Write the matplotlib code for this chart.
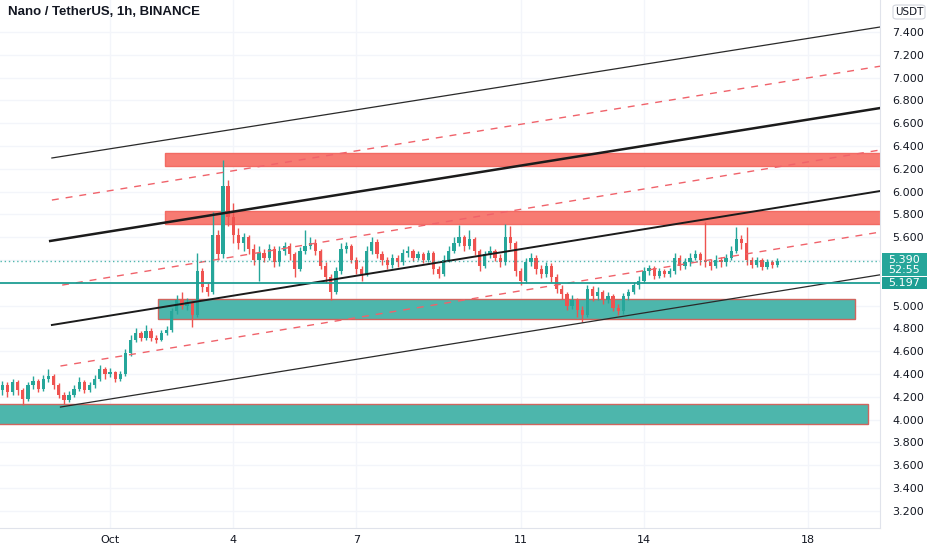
import numpy as np
import pandas as pd
import matplotlib
matplotlib.use("Agg")
import matplotlib.pyplot as plt
import matplotlib.dates as mdates
from matplotlib.patches import Rectangle, FancyBboxPatch

title = "Nano / TetherUS, 1h, BINANCE"

# candles, aggregated to 3h
first_open = 4.26
closes = [4.30, 4.24, 4.33, 4.26, 4.18, 4.30, 4.34, 4.27, 4.36, 4.38,
          4.30, 4.22, 4.17, 4.22, 4.27, 4.33, 4.26, 4.30, 4.36, 4.44,
          4.40, 4.42, 4.36, 4.40, 4.58, 4.70, 4.76, 4.72, 4.78, 4.72,
          4.70, 4.76, 4.79, 4.95, 5.05, 5.00, 5.03, 4.92, 5.30, 5.16,
          5.12, 5.62, 5.45, 6.05, 5.78, 5.62, 5.55, 5.60, 5.50, 5.40,
          5.46, 5.42, 5.50, 5.38, 5.48, 5.52, 5.45, 5.32, 5.48, 5.52,
          5.55, 5.48, 5.35, 5.25, 5.12, 5.30, 5.50, 5.52, 5.40, 5.32,
          5.28, 5.48, 5.56, 5.45, 5.40, 5.36, 5.42, 5.38, 5.46, 5.48,
          5.42, 5.45, 5.40, 5.46, 5.32, 5.28, 5.40, 5.48, 5.55, 5.60,
          5.52, 5.58, 5.48, 5.35, 5.45, 5.48, 5.42, 5.38, 5.60, 5.55,
          5.30, 5.22, 5.38, 5.42, 5.32, 5.28, 5.35, 5.25, 5.15, 5.10,
          5.00, 5.05, 4.96, 4.92, 5.15, 5.08, 5.12, 5.05, 5.08, 4.98,
          4.95, 5.08, 5.12, 5.18, 5.22, 5.30, 5.33, 5.26, 5.30, 5.28,
          5.30, 5.42, 5.35, 5.38, 5.42, 5.45, 5.40, 5.38, 5.35, 5.40,
          5.38, 5.42, 5.48, 5.58, 5.55, 5.40, 5.36, 5.40, 5.34, 5.38,
          5.36, 5.39]
highs = [4.34, 4.33, 4.36, 4.35, 4.28, 4.33, 4.38, 4.36, 4.39, 4.44,
         4.40, 4.32, 4.24, 4.25, 4.30, 4.37, 4.35, 4.33, 4.39, 4.48,
         4.46, 4.45, 4.43, 4.43, 4.62, 4.74, 4.80, 4.78, 4.83, 4.80,
         4.74, 4.79, 4.82, 4.98, 5.09, 5.12, 5.07, 5.05, 5.46, 5.33,
         5.20, 5.82, 5.66, 6.28, 6.10, 5.90, 5.68, 5.64, 5.62, 5.54,
         5.52, 5.50, 5.54, 5.52, 5.52, 5.56, 5.55, 5.47, 5.51, 5.66,
         5.60, 5.58, 5.50, 5.38, 5.28, 5.34, 5.55, 5.56, 5.54, 5.43,
         5.35, 5.52, 5.60, 5.58, 5.48, 5.43, 5.45, 5.44, 5.50, 5.52,
         5.50, 5.48, 5.47, 5.49, 5.48, 5.35, 5.44, 5.52, 5.60, 5.71,
         5.62, 5.66, 5.60, 5.50, 5.48, 5.52, 5.50, 5.45, 5.72, 5.70,
         5.57, 5.33, 5.42, 5.46, 5.44, 5.36, 5.38, 5.37, 5.28, 5.18,
         5.12, 5.09, 5.07, 5.00, 5.18, 5.17, 5.16, 5.14, 5.12, 5.10,
         5.01, 5.11, 5.15, 5.21, 5.26, 5.34, 5.36, 5.35, 5.33, 5.32,
         5.33, 5.46, 5.44, 5.42, 5.46, 5.49, 5.47, 5.73, 5.41, 5.44,
         5.43, 5.45, 5.52, 5.69, 5.62, 5.69, 5.43, 5.43, 5.42, 5.41,
         5.40, 5.42]
lows = [4.22, 4.20, 4.22, 4.22, 4.13, 4.16, 4.27, 4.24, 4.25, 4.33,
        4.27, 4.19, 4.14, 4.15, 4.20, 4.25, 4.23, 4.24, 4.28, 4.34,
        4.36, 4.37, 4.33, 4.34, 4.38, 4.56, 4.68, 4.69, 4.70, 4.69,
        4.67, 4.69, 4.74, 4.77, 4.93, 4.97, 4.96, 4.81, 4.90, 5.12,
        5.08, 5.10, 5.40, 5.42, 5.70, 5.55, 5.50, 5.48, 5.45, 5.36,
        5.22, 5.38, 5.40, 5.34, 5.35, 5.44, 5.40, 5.25, 5.30, 5.45,
        5.50, 5.44, 5.32, 5.20, 5.05, 5.10, 5.28, 5.46, 5.37, 5.28,
        5.22, 5.26, 5.45, 5.42, 5.36, 5.32, 5.33, 5.34, 5.36, 5.43,
        5.39, 5.40, 5.37, 5.38, 5.28, 5.24, 5.26, 5.38, 5.46, 5.52,
        5.48, 5.50, 5.44, 5.30, 5.33, 5.42, 5.39, 5.34, 5.36, 5.50,
        5.26, 5.18, 5.20, 5.35, 5.28, 5.24, 5.25, 5.21, 5.11, 5.06,
        4.96, 4.97, 4.90, 4.86, 4.90, 5.04, 5.05, 5.01, 5.02, 4.95,
        4.92, 4.93, 5.05, 5.10, 5.15, 5.20, 5.27, 5.23, 5.24, 5.25,
        5.25, 5.28, 5.31, 5.32, 5.35, 5.40, 5.36, 5.34, 5.31, 5.33,
        5.34, 5.35, 5.40, 5.46, 5.50, 5.36, 5.33, 5.34, 5.31, 5.32,
        5.33, 5.34]

# drawn zones (supply red, demand teal)
zone_start = ["2021-10-02 08:00", "2021-10-02 08:00", "2021-10-02 04:00", "2021-09-28 00:00"]
zone_end = ["2021-10-20 00:00", "2021-10-20 00:00", "2021-10-19 03:30", "2021-10-19 11:00"]
zone_lo = [6.225, 5.715, 4.88, 3.96]
zone_hi = [6.34, 5.83, 5.058, 4.137]
zone_kind = ["supply", "supply", "demand", "demand"]

# channel lines
line_start = ["2021-09-29 14:00", "2021-09-29 14:00", "2021-09-29 13:00", "2021-09-29 20:00",
              "2021-09-29 14:00", "2021-09-29 19:00", "2021-09-29 19:00"]
line_end = ["2021-10-19 18:00"] * 7
line_p0 = [6.295, 5.926, 5.567, 5.18, 4.83, 4.47, 4.11]
line_p1 = [7.444, 7.10, 6.733, 6.365, 6.005, 5.645, 5.27]
line_kind = ["thin", "dash", "thick", "dash", "mid", "dash", "thin"]

hline_price = 5.197
last_price = 5.390
countdown = "52:55"

price_levels = [3.2, 3.4, 3.6, 3.8, 4.0, 4.2, 4.4, 4.6, 4.8, 5.0, 5.2, 5.4,
                5.6, 5.8, 6.0, 6.2, 6.4, 6.6, 6.8, 7.0, 7.2, 7.4]
day_ticks = ["2021-10-01", "2021-10-04", "2021-10-07", "2021-10-11", "2021-10-14", "2021-10-18"]
day_labels = ["Oct", "4", "7", "11", "14", "18"]

UP = "#26a69a"
DOWN = "#ef5350"
GRID = "#f3f5fa"
TXT = "#131722"

plt.rcParams['font.family'] = ['DejaVu Sans']

fig = plt.figure(figsize=(9.32, 5.5), dpi=100)
ax = fig.add_axes([0, 22 / 550, 880 / 932, 528 / 550])

t = mdates.date2num(pd.date_range("2021-09-28 09:00", periods=len(closes), freq="3h").to_pydatetime())
c = np.array(closes)
o = np.concatenate([[first_open], c[:-1]])
h = np.maximum(np.array(highs), np.maximum(o, c))
l = np.minimum(np.array(lows), np.minimum(o, c))
col = np.where(c >= o, UP, DOWN)

# grid
for p in price_levels:
    ax.axhline(p, color=GRID, lw=1, zorder=0)
for d in day_ticks:
    ax.axvline(mdates.datestr2num(d), color=GRID, lw=1, zorder=0)

# zones
for s, e, lo, hi, k in zip(zone_start, zone_end, zone_lo, zone_hi, zone_kind):
    x0 = mdates.datestr2num(s)
    x1 = mdates.datestr2num(e)
    if k == "supply":
        fc, ec = "#f77b72", "#f26b63"
    else:
        fc, ec = "#4db6ac", "#d0655e"
    ax.add_patch(Rectangle((x0, lo), x1 - x0, hi - lo, facecolor=fc, edgecolor=ec,
                           lw=1, zorder=1))

ax.vlines(t, l, h, colors=col, lw=1.0, zorder=2)
ax.bar(t, np.maximum(np.abs(c - o), 0.008), bottom=np.minimum(o, c), width=0.08,
       color=col, zorder=2, linewidth=0)

# channel lines
for s, e, p0, p1, k in zip(line_start, line_end, line_p0, line_p1, line_kind):
    xs = [mdates.datestr2num(s), mdates.datestr2num(e)]
    if k == "dash":
        ax.plot(xs, [p0, p1], color="#f0626a", lw=1, ls=(0, (5, 5)), zorder=4)
    elif k == "thick":
        ax.plot(xs, [p0, p1], color="#1b1b1b", lw=1.8, zorder=4)
    elif k == "mid":
        ax.plot(xs, [p0, p1], color="#1b1b1b", lw=1.4, zorder=4)
    else:
        ax.plot(xs, [p0, p1], color="#2a2a2a", lw=0.9, zorder=4)

ax.axhline(hline_price, color="#1e9e93", lw=1.3, zorder=4)
ax.axhline(last_price, color=UP, lw=1, ls=(0, (1, 2)), alpha=0.8, zorder=4)

ax.set_xlim(mdates.datestr2num("2021-09-28 07:40"), mdates.datestr2num("2021-10-19 18:00"))
ax.set_ylim(3.049, 7.681)

ax.yaxis.tick_right()
ax.set_yticks(price_levels)
ax.set_yticklabels(["" if abs(p - 5.2) < 1e-6 or abs(p - 5.4) < 1e-6 else f"{p:.3f}"
                    for p in price_levels])
ax.set_xticks([mdates.datestr2num(d) for d in day_ticks])
ax.set_xticklabels(day_labels)
ax.tick_params(axis="y", length=0, pad=9, labelsize=8, labelcolor=TXT)
ax.tick_params(axis="x", length=0, pad=5, labelsize=8, labelcolor=TXT)
for sp in ["top", "left"]:
    ax.spines[sp].set_visible(False)
ax.spines["right"].set_color("#e0e3eb")
ax.spines["bottom"].set_color("#e0e3eb")

fig.text(8 / 932, 1 - 12 / 550, title, fontsize=9.5, fontweight="bold", color=TXT,
         family="Liberation Sans", va="center", ha="left")

# price scale badges
fig.patches.append(FancyBboxPatch((893 / 932, 1 - 19 / 550), 32 / 932, 14 / 550,
                                  boxstyle="round,pad=0,rounding_size=0.004",
                                  transform=fig.transFigure, facecolor="white",
                                  edgecolor="#d1d4dc", lw=0.8))
fig.text(909 / 932, 1 - 12 / 550, "USDT", fontsize=7.5, color=TXT, ha="center", va="center")

y_last = ax.transData.transform((0, last_price))[1]
y_h = ax.transData.transform((0, hline_price))[1]
fig.patches.append(Rectangle((882 / 932, (y_last - 15) / 550), 45 / 932, 23 / 550,
                             transform=fig.transFigure, facecolor=UP, edgecolor="none"))
fig.text(904 / 932, (y_last + 1) / 550, f"{last_price:.3f}", fontsize=8, color="white",
         ha="center", va="center")
fig.text(904 / 932, (y_last - 9) / 550, countdown, fontsize=8, color="white",
         ha="center", va="center")
fig.patches.append(Rectangle((882 / 932, (y_h - 6) / 550), 45 / 932, 12 / 550,
                             transform=fig.transFigure, facecolor="#1e9e93", edgecolor="none"))
fig.text(904 / 932, y_h / 550, f"{hline_price:.3f}", fontsize=8, color="white",
         ha="center", va="center")

fig.savefig("out.png", dpi=100)
